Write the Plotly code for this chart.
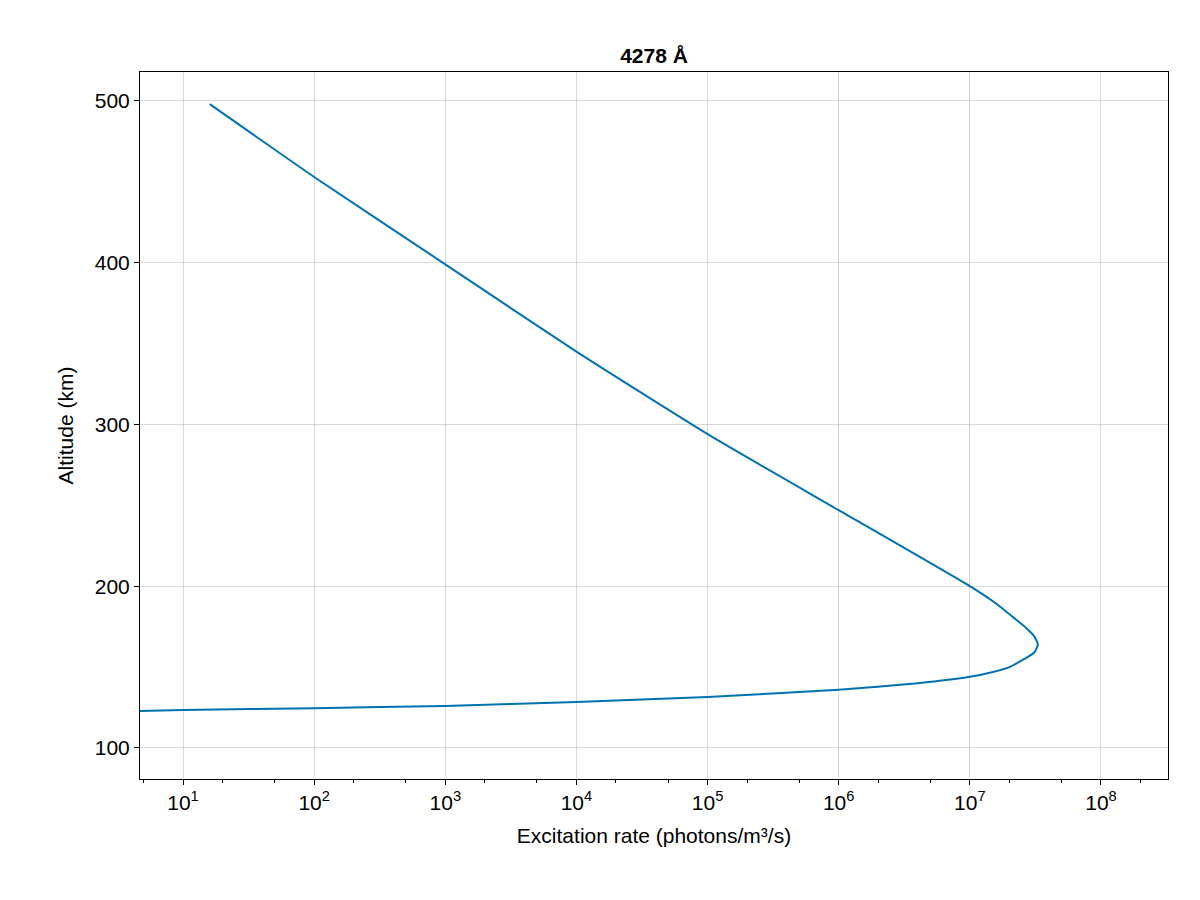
import plotly.graph_objects as go

# excitation rate profile
altitude = [122.8, 123.4, 124.6, 126.0, 128.4, 131.5, 136.0, 140.0, 144.0, 147.0, 150.0, 155.0, 159.0, 164.0, 169.0, 174.0, 180.0, 189.0, 200.0, 247.0, 294.0, 345.0, 399.0, 453.0, 498.0]
rate = [4.7, 1e1, 1e2, 1e3, 1e4, 1e5, 1e6, 4e6, 1e7, 1.5e7, 2.0e7, 2.6e7, 3.1e7, 3.3e7, 3.1e7, 2.7e7, 2.2e7, 1.6e7, 1e7, 1e6, 1e5, 1e4, 1e3, 1e2, 16]

xtick_vals = [10 ** k for k in range(1, 9)]
xtick_text = ["10<sup>%d</sup>" % k for k in range(1, 9)]

fig = go.Figure(go.Scatter(x=rate, y=altitude, mode="lines",
                           line=dict(color="#0072b2", width=2, shape="spline", smoothing=0.5)))

axis_common = dict(showline=True, linecolor="black", linewidth=1, mirror=True,
                   showgrid=True, gridcolor="rgba(0,0,0,0.15)", ticks="outside",
                   tickcolor="black", ticklen=5, zeroline=False,
                   tickfont=dict(size=21), title_font=dict(size=21))
fig.update_xaxes(type="log", range=[0.672, 8.511], tickvals=xtick_vals, ticktext=xtick_text,
                 title_text="Excitation rate (photons/m³/s)",
                 minor=dict(ticks="outside", ticklen=3, tickcolor="black", showgrid=False),
                 **axis_common)
fig.update_yaxes(range=[80.8, 517.9], tickvals=[100, 200, 300, 400, 500],
                 title_text="Altitude (km)", **axis_common)
fig.update_layout(width=1200, height=900, plot_bgcolor="white", paper_bgcolor="white",
                  font=dict(family="Liberation Sans, Arial, sans-serif", color="black"),
                  title=dict(text="<b>4278 Å</b>", x=0.5, xref="paper", y=0.955, font=dict(size=21)),
                  margin=dict(l=132, r=40, t=64, b=129), showlegend=False)
fig.write_html("out.html")
